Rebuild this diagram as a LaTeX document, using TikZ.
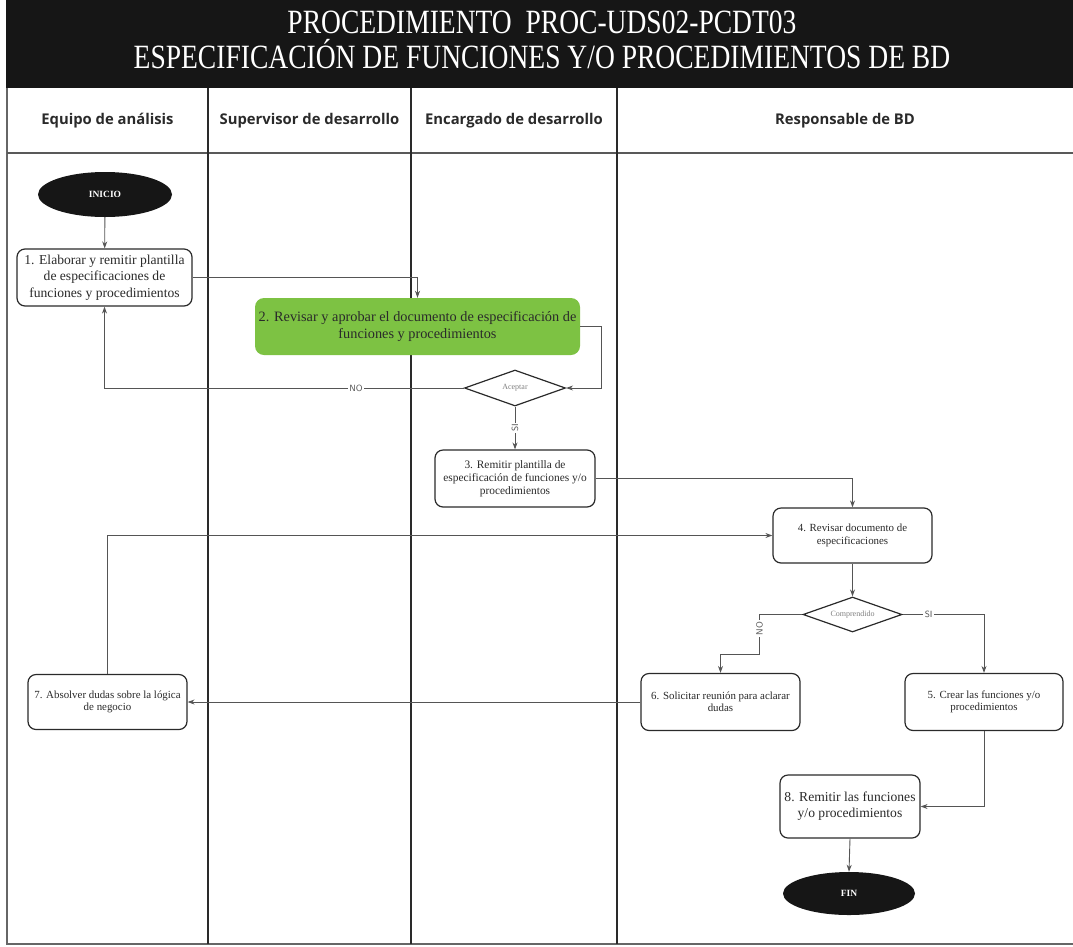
\documentclass[tikz,border=0pt]{standalone}
\usepackage{fontspec}
\setmainfont{Liberation Serif}
\newfontfamily\titlefont[FakeStretch=0.81]{Liberation Serif}
\newfontfamily\lanefont{Open Sans}
\usetikzlibrary{arrows.meta,shapes.geometric}
\definecolor{band}{HTML}{161616}
\definecolor{leaf}{HTML}{7DC243}
\definecolor{wire}{HTML}{555555}
\definecolor{ink}{HTML}{2A2A2A}
\tikzset{
  every node/.style={inner sep=0pt},
  stepbox/.style={draw=ink, line width=1.2pt, rounded corners=8pt, fill=white,
    align=center, text=ink, font=\fontsize{10.9}{12.5}\selectfont},
  greenbox/.style={fill=leaf, rounded corners=9pt, align=center, text=ink,
    font=\fontsize{14.3}{17}\selectfont},
  terminal/.style={ellipse, fill=band, text=white, font=\fontsize{9.5}{11}\selectfont\bfseries},
  choice/.style={diamond, draw=ink, line width=1.2pt, fill=white, text=gray,
    font=\fontsize{8}{9.5}\selectfont, aspect=2.8},
  flow/.style={draw=wire, line width=0.9pt, -{Stealth[length=7pt,width=5pt]}},
  tag/.style={fill=white, text=wire, inner sep=1.5pt, font=\sffamily\fontsize{9}{10.5}\selectfont},
  lanehead/.style={font=\lanefont\bfseries\fontsize{14.8}{17}\selectfont, text=ink},
  divider/.style={draw=ink, line width=1.6pt},
}
\begin{document}
\begin{tikzpicture}[x=1pt,y=-1pt]
\useasboundingbox (0,0) rectangle (1073,946);

% title band
\fill[band] (6,0) rectangle (1073,88);
\node[text=white, align=center, font=\titlefont\fontsize{34}{35}\selectfont] (title) at (542,40)
  {PROCEDIMIENTO\ \ PROC-UDS02-PCDT03\\ESPECIFICACIÓN DE FUNCIONES Y/O PROCEDIMIENTOS DE BD};

% swimlane frame
\draw[draw=gray!80!black, line width=1.6pt] (7,88) -- (7,944) -- (1073,944);
\draw[draw=gray!70!black, line width=1.8pt] (7,153) -- (1073,153);
\draw[divider] (208,88) -- (208,944);
\draw[divider] (411,88) -- (411,944);
\draw[divider] (617,88) -- (617,944);

% lane headers
\node[lanehead] (h1) at (107.5,121) {Equipo de análisis};
\node[lanehead] (h2) at (309.5,121) {Supervisor de desarrollo};
\node[lanehead] (h3) at (514,121) {Encargado de desarrollo};
\node[lanehead] (h4) at (845,121) {Responsable de BD};

% steps
\node[terminal, minimum width=134pt, minimum height=45pt] (inicio) at (105,194.5) {INICIO};
\node[stepbox, minimum width=175pt, minimum height=57pt, font=\fontsize{13.6}{16.5}\selectfont] (b1) at (104.5,277.5)
  {1. Elaborar y remitir plantilla\\de especificaciones de\\funciones y procedimientos};
\node[greenbox, minimum width=325pt, minimum height=57pt] (b2) at (417.5,326.5)
  {2. Revisar y aprobar el documento de especificación de\\funciones y procedimientos};
\node[choice, minimum width=101pt, minimum height=36pt] (d1) at (515,388) {Aceptar};
\node[stepbox, minimum width=160pt, minimum height=57pt, font=\fontsize{11.4}{13}\selectfont] (b3) at (515,478.5)
  {3. Remitir plantilla de\\especificación de funciones y/o\\procedimientos};
\node[stepbox, minimum width=159pt, minimum height=55pt] (b4) at (852.5,535.5)
  {4. Revisar documento de\\especificaciones};
\node[choice, minimum width=99pt, minimum height=35pt] (d2) at (852.5,614.5) {Comprendido};
\node[stepbox, minimum width=158pt, minimum height=57pt] (b5) at (984,702)
  {5. Crear las funciones y/o\\procedimientos};
\node[stepbox, minimum width=159pt, minimum height=57pt] (b6) at (720.5,702)
  {6. Solicitar reunión para aclarar\\dudas};
\node[stepbox, minimum width=159pt, minimum height=55pt] (b7) at (107.5,702)
  {7. Absolver dudas sobre la lógica\\de negocio};
\node[stepbox, minimum width=140pt, minimum height=63pt, font=\fontsize{13.6}{16}\selectfont] (b8) at (850,806.5)
  {8. Remitir las funciones\\y/o procedimientos};
\node[terminal, minimum width=132pt, minimum height=43pt] (fin) at (849,893.5) {FIN};

% connectors
\draw[flow] (inicio) -- (b1);
\draw[flow] (b1.east) -| (b2.north);
\draw[flow] (b2.east) -- ++(21,0) |- (d1.east);
\draw[flow] (d1.west) -| node[tag, pos=0.15] {NO} (b1.south);
\draw[flow] (d1.south) -- node[tag, rotate=90] {SI} (b3.north);
\draw[flow] (b3.east) -| (b4.north);
\draw[flow] (b7.north) |- (b4.west);
\draw[flow] (b4.south) -- (d2.north);
\draw[flow] (d2.east) -| node[tag, pos=0.16] {SI} (b5.north);
\draw[flow] (d2.west) -- ++(-43,0) -- node[tag, rotate=90, pos=0.35] {NO} ++(0,40) -| (b6.north);
\draw[flow] (b6.west) -- (b7.east);
\draw[flow] (b5.south) |- (b8.east);
\draw[flow] (b8.south) -- (fin.north);
\end{tikzpicture}
\end{document}
